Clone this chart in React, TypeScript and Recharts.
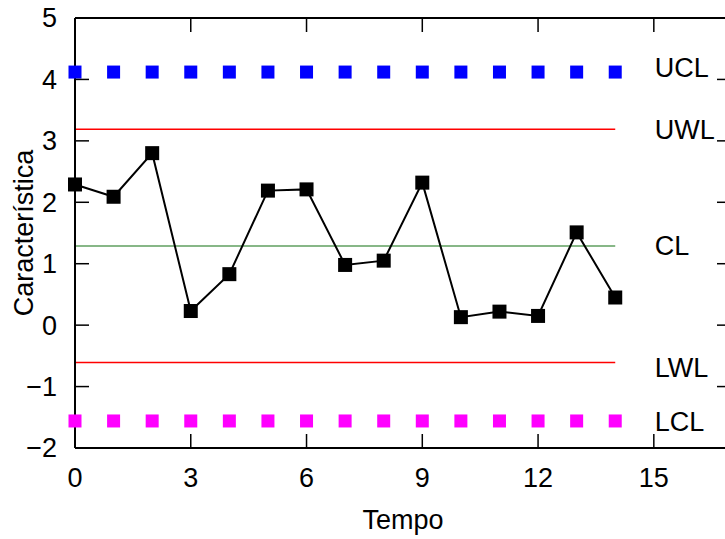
import {
  LineChart,
  Line,
  XAxis,
  YAxis,
  ReferenceDot,
  Label,
} from "recharts";

const tempo = [0, 1, 2, 3, 4, 5, 6, 7, 8, 9, 10, 11, 12, 13, 14];
const caracteristica = [2.29, 2.09, 2.8, 0.23, 0.83, 2.19, 2.21, 0.98, 1.05, 2.32, 0.13, 0.22, 0.15, 1.51, 0.45];

const limitNames = ["UCL", "UWL", "CL", "LWL", "LCL"];
const limitValues = [4.12, 3.19, 1.29, -0.61, -1.56];

const xTicks = [0, 3, 6, 9, 12, 15];
const yTicks = [-2, -1, 0, 1, 2, 3, 4, 5];
const labelX = 15;

const FONT = "'Liberation Sans', Arial, Helvetica, sans-serif";
const FS = 27;
const TICK = 14;

const data = tempo.map((t, i) => ({
  t,
  v: caracteristica[i],
  ucl: limitValues[0],
  uwl: limitValues[1],
  cl: limitValues[2],
  lwl: limitValues[3],
  lcl: limitValues[4],
}));

const fmt = (v: number) => (v < 0 ? `\u2212${-v}` : `${v}`);

const square = (size: number, color: string) => (p: any) => {
  if (p.cx == null || p.cy == null) return <g key={p.index} />;
  return (
    <rect
      key={p.index}
      x={p.cx - size / 2}
      y={p.cy - size / 2}
      width={size}
      height={size}
      fill={color}
    />
  );
};

const axisLine = { stroke: "#000", strokeWidth: 2 };
const tickStroke = { stroke: "#000", strokeWidth: 1.5 };

// gnuplot-style ticks: labels outside, tick marks pointing into the plot
const leftTick = (margin: number) => (p: any) => (
  <g>
    <line x1={p.x + margin} x2={p.x + margin + TICK} y1={p.y} y2={p.y} {...tickStroke} />
    <text x={p.x} y={p.y} dy="0.35em" textAnchor="end" fontSize={FS} fontFamily={FONT} fill="#000">
      {fmt(p.payload.value)}
    </text>
  </g>
);

const bottomTick = (margin: number) => (p: any) => (
  <g>
    <line x1={p.x} x2={p.x} y1={p.y - margin} y2={p.y - margin - TICK} {...tickStroke} />
    <text x={p.x} y={p.y} dy="0.71em" textAnchor="middle" fontSize={FS} fontFamily={FONT} fill="#000">
      {fmt(p.payload.value)}
    </text>
  </g>
);

const topTick = (p: any) => (
  <line x1={p.x} x2={p.x} y1={p.y} y2={p.y + TICK} {...tickStroke} />
);

const rightTick = (p: any) => (
  <line x1={p.x} x2={p.x - TICK} y1={p.y} y2={p.y} {...tickStroke} />
);

const labelDy: Record<string, number> = { UCL: -5, LWL: 5 };

export default function App() {
  return (
    <div style={{ position: "absolute", left: 0, top: 0, width: 725, height: 539, background: "#fff" }}>
      <LineChart
        width={725}
        height={539}
        data={data}
        margin={{ top: 17, right: -7, bottom: 0, left: 0 }}
      >
        <XAxis
          xAxisId="b"
          dataKey="t"
          type="number"
          domain={[0, 17]}
          ticks={xTicks}
          height={91}
          tickSize={0}
          tickMargin={20}
          tick={bottomTick(20)}
          axisLine={axisLine}
          tickLine={false}
        >
          <Label
            content={(props: any) => {
              const vb = props.viewBox || { x: 75, y: 448, width: 656, height: 91 };
              return (
                <text
                  x={vb.x + vb.width / 2}
                  y={vb.y + 81}
                  textAnchor="middle"
                  fontSize={FS}
                  fontFamily={FONT}
                  fill="#000"
                >
                  Tempo
                </text>
              );
            }}
          />
        </XAxis>
        <XAxis
          xAxisId="t"
          dataKey="t"
          type="number"
          orientation="top"
          domain={[0, 17]}
          allowDataOverflow
          ticks={xTicks}
          height={1}
          tickSize={0}
          tickMargin={0}
          tick={topTick}
          axisLine={axisLine}
          tickLine={false}
        />
        <YAxis
          yAxisId="l"
          type="number"
          domain={[-2, 5]}
          ticks={yTicks}
          width={75}
          tickSize={0}
          tickMargin={18}
          tick={leftTick(18)}
          axisLine={axisLine}
          tickLine={false}
        >
          <Label
            content={(props: any) => {
              const vb = props.viewBox || { x: 0, y: 18, width: 75, height: 430 };
              const cx = vb.x + 33;
              const cy = vb.y + vb.height / 2;
              return (
                <text
                  x={cx}
                  y={cy}
                  transform={`rotate(-90 ${cx} ${cy})`}
                  textAnchor="middle"
                  fontSize={FS}
                  fontFamily={FONT}
                  fill="#000"
                >
                  Característica
                </text>
              );
            }}
          />
        </YAxis>
        <YAxis
          yAxisId="r"
          orientation="right"
          type="number"
          domain={[-2, 5]}
          allowDataOverflow
          ticks={yTicks}
          width={1}
          tickSize={0}
          tickMargin={0}
          tick={rightTick}
          axisLine={axisLine}
          tickLine={false}
        />

        <Line xAxisId="b" yAxisId="l" dataKey="uwl" stroke="#ff0000" strokeWidth={1.5} dot={false} isAnimationActive={false} />
        <Line xAxisId="b" yAxisId="l" dataKey="cl" stroke="#5f9f5f" strokeWidth={1.5} dot={false} isAnimationActive={false} />
        <Line xAxisId="b" yAxisId="l" dataKey="lwl" stroke="#ff0000" strokeWidth={1.5} dot={false} isAnimationActive={false} />
        <Line xAxisId="b" yAxisId="l" dataKey="ucl" stroke="none" dot={square(13, "#0000ff")} isAnimationActive={false} />
        <Line xAxisId="b" yAxisId="l" dataKey="lcl" stroke="none" dot={square(13, "#ff00ff")} isAnimationActive={false} />
        <Line xAxisId="b" yAxisId="l" dataKey="v" stroke="#000" strokeWidth={2} dot={square(14, "#000")} isAnimationActive={false} />

        {limitNames.map((name, i) => (
          <ReferenceDot
            key={name}
            xAxisId="b"
            yAxisId="l"
            x={labelX}
            y={limitValues[i]}
            r={0}
            fill="none"
            stroke="none"
            label={{
              value: name,
              position: "right",
              offset: 1,
              dy: labelDy[name] ?? 0,
              fontSize: FS,
              fontFamily: FONT,
              fill: "#000",
            }}
          />
        ))}
      </LineChart>
    </div>
  );
}
